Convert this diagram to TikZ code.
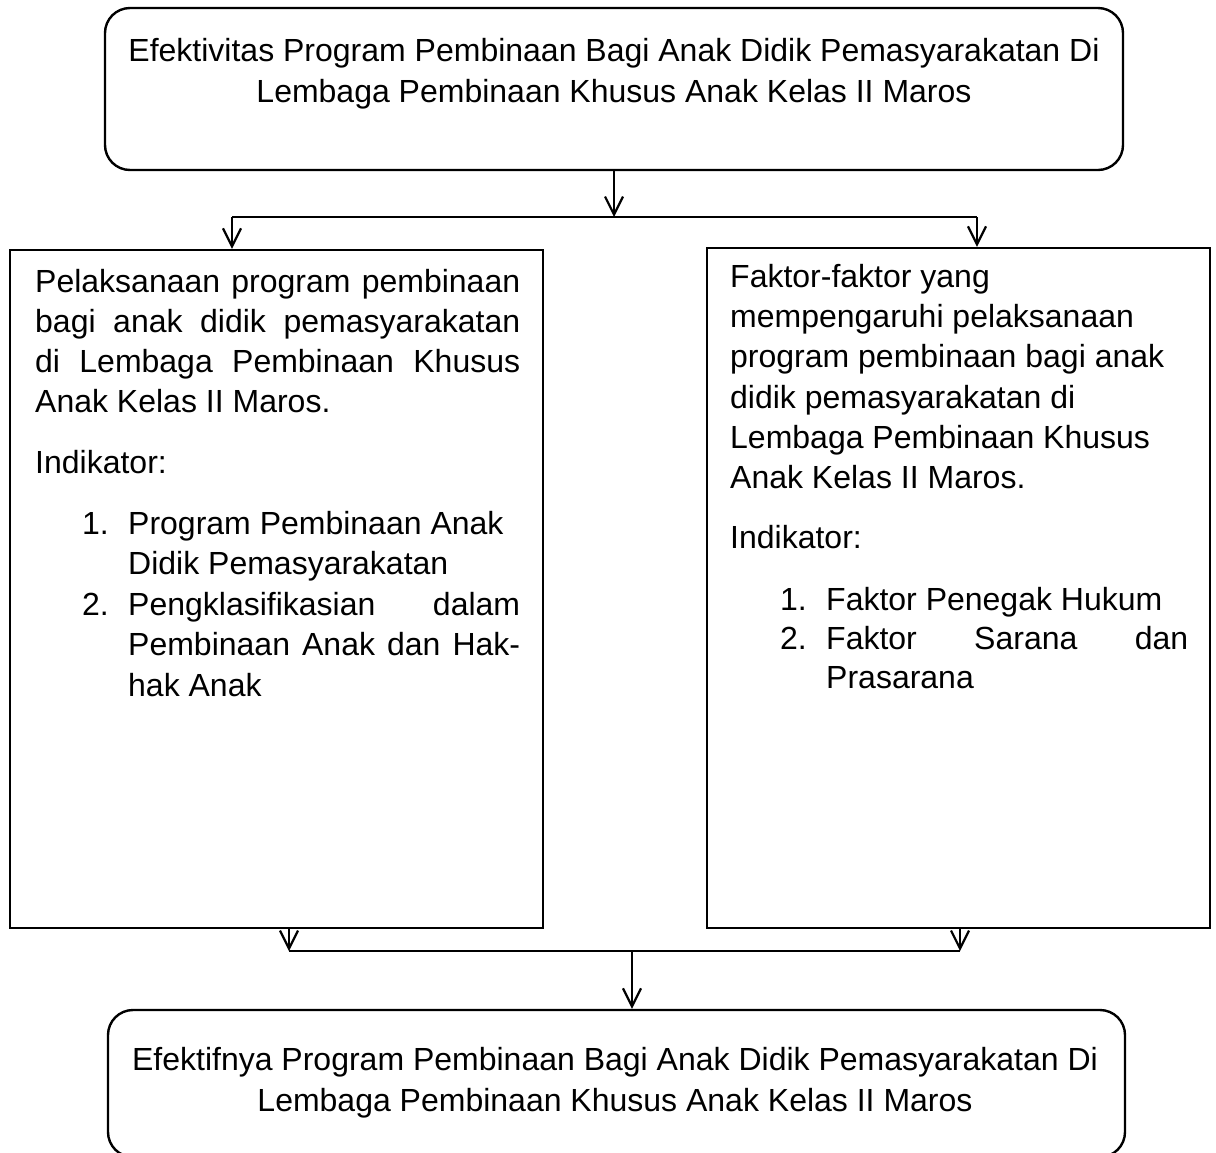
\documentclass[tikz,border=0pt]{standalone}
\usepackage{fontspec}
\setmainfont{Liberation Sans}
\usetikzlibrary{arrows.meta}
\tikzset{
  boxr/.style={draw, line width=2.4pt, rounded corners=25pt, inner sep=0pt},
  boxs/.style={draw, line width=2.4pt, inner sep=0pt},
  conn/.style={line width=2.2pt},
  arr/.style={line width=2.2pt, -{Straight Barb[length=18pt,width=18pt,line width=2.2pt]}},
  txt/.style={anchor=base west, inner sep=0pt, font=\fontsize{32}{40}\selectfont},
  ctxt/.style={anchor=base, inner sep=0pt, font=\fontsize{32}{40}\selectfont},
}
\newcommand{\jline}[2]{\makebox[#1][s]{#2}}
\begin{document}
\begin{tikzpicture}[x=1pt,y=-1pt]
\fill[white] (0,0) rectangle (1216,1152);
\useasboundingbox (0,0) rectangle (1216,1152);
% boxes
\node[boxr, minimum width=1018pt, minimum height=162pt] (top) at (614,89) {};
\node[boxs, minimum width=533pt, minimum height=678pt] (left) at (276.5,589) {};
\node[boxs, minimum width=503pt, minimum height=680pt] (right) at (958.5,588) {};
\node[boxr, minimum width=1017pt, minimum height=147pt] (bot) at (616.5,1083.5) {};
% top text
\node[ctxt] (t1) at (614,61) {Efektivitas Program Pembinaan Bagi Anak Didik Pemasyarakatan Di};
\node[ctxt] (t2) at (614,102) {Lembaga Pembinaan Khusus Anak Kelas II Maros};
% left text
\node[txt] (l1) at (35,292) {\jline{485pt}{Pelaksanaan program pembinaan}};
\node[txt] (l2) at (35,332) {\jline{485pt}{bagi anak didik pemasyarakatan}};
\node[txt] (l3) at (35,372) {\jline{485pt}{di Lembaga Pembinaan Khusus}};
\node[txt] (l4) at (35,412) {Anak Kelas II Maros.};
\node[txt] (l5) at (35,473) {Indikator:};
\node[txt] (ln1) at (82,534) {1.};
\node[txt] (l6) at (128,534) {Program Pembinaan Anak};
\node[txt] (l7) at (128,574) {Didik Pemasyarakatan};
\node[txt] (ln2) at (82,615) {2.};
\node[txt] (l8) at (128,615) {\jline{392pt}{Pengklasifikasian dalam}};
\node[txt] (l9) at (128,655) {\jline{392pt}{Pembinaan Anak dan Hak-}};
\node[txt] (l10) at (128,696) {hak Anak};
% right text
\node[txt] (r1) at (730,287) {Faktor-faktor yang};
\node[txt] (r2) at (730,327) {mempengaruhi pelaksanaan};
\node[txt] (r3) at (730,367) {program pembinaan bagi anak};
\node[txt] (r4) at (730,408) {didik pemasyarakatan di};
\node[txt] (r5) at (730,448) {Lembaga Pembinaan Khusus};
\node[txt] (r6) at (730,488) {Anak Kelas II Maros.};
\node[txt] (r7) at (730,548) {Indikator:};
\node[txt] (rn1) at (780,610) {1.};
\node[txt] (r8) at (826,610) {Faktor Penegak Hukum};
\node[txt] (rn2) at (780,649) {2.};
\node[txt] (r9) at (826,649) {\jline{362pt}{Faktor Sarana dan}};
\node[txt] (r10) at (826,688) {Prasarana};
% bottom text
\node[ctxt] (b1) at (615,1070) {Efektifnya Program Pembinaan Bagi Anak Didik Pemasyarakatan Di};
\node[ctxt] (b2) at (615,1111) {Lembaga Pembinaan Khusus Anak Kelas II Maros};
% connectors
\coordinate (la) at (232,217);
\coordinate (ra) at (977,217);
\draw[arr] (top.south) -- (top.south |- la);
\draw[conn] (la) -- (ra);
\draw[arr] (la) -- (la |- left.north);
\draw[arr] (ra) -- (ra |- right.north);
\coordinate (lb) at (289,951);
\coordinate (rb) at (960,951);
\coordinate (cb) at (632,951);
\draw[arr] (lb |- left.south) -- (lb);
\draw[arr] (rb |- right.south) -- (rb);
\draw[conn] (lb) -- (rb);
\draw[arr] (cb) -- (cb |- bot.north);
\end{tikzpicture}
\end{document}
